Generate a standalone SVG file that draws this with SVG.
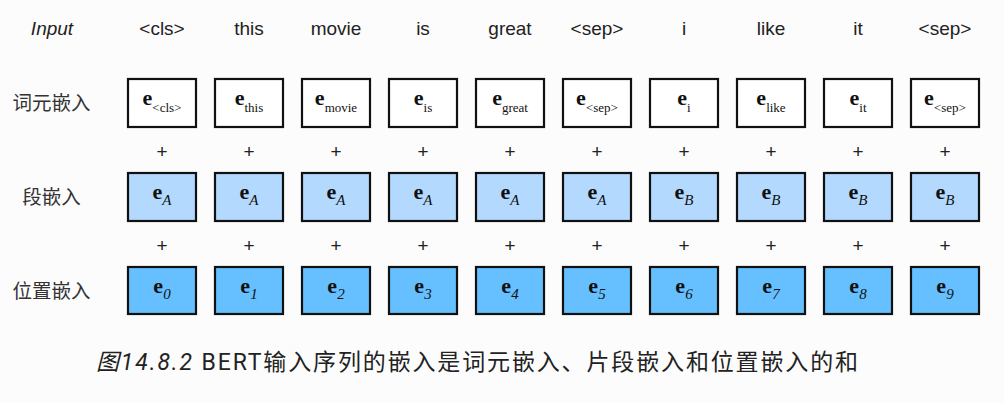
<svg xmlns="http://www.w3.org/2000/svg" width="1004" height="403" viewBox="0 0 1004 403">
<style>
.bg{fill:#fcfcfc}
.box{stroke:#111;stroke-width:2.2}
.tok{fill:#fff}
.seg{fill:#b3d9ff}
.pos{fill:#66bfff}
.top{font-family:"Liberation Sans",Arial,sans-serif;font-size:19px;fill:#222;text-anchor:middle}
.row{font-family:"Noto Sans CJK SC",sans-serif;font-size:19.5px;fill:#333;text-anchor:middle}
.plus{font-family:"Liberation Sans",Arial,sans-serif;font-size:19px;fill:#222;text-anchor:middle}
.lbl{font-family:"Liberation Serif","DejaVu Serif",serif;fill:#111;text-anchor:middle}
.e{font-weight:bold;font-size:22px}
.s{font-size:13px}
.si{font-size:15px;font-style:italic}
.cap{font-family:Roboto,"Noto Sans CJK SC",sans-serif;font-size:23px;fill:#222}
</style>
<rect class="bg" x="0" y="0" width="1004" height="403"/>
<g id="inputs">
<text class="top" x="52" y="35" font-style="italic">Input</text>
<text class="top" x="162" y="35">&lt;cls&gt;</text>
<text class="top" x="249" y="35">this</text>
<text class="top" x="336" y="35">movie</text>
<text class="top" x="423" y="35">is</text>
<text class="top" x="510" y="35">great</text>
<text class="top" x="597" y="35">&lt;sep&gt;</text>
<text class="top" x="684" y="35">i</text>
<text class="top" x="771" y="35">like</text>
<text class="top" x="858" y="35">it</text>
<text class="top" x="945" y="35">&lt;sep&gt;</text>
</g>
<g id="row-labels">
<text class="row" x="51.5" y="110">词元嵌入</text>
<text class="row" x="51.5" y="204">段嵌入</text>
<text class="row" x="51.5" y="298">位置嵌入</text>
</g>
<g id="token-embeddings">
<g id="tok0"><rect class="box tok" x="128" y="79" width="68" height="48"/><text class="lbl" x="162" y="105"><tspan class="e">e</tspan><tspan class="s" dy="7">&lt;cls&gt;</tspan></text></g>
<g id="tok1"><rect class="box tok" x="215" y="79" width="68" height="48"/><text class="lbl" x="249" y="105"><tspan class="e">e</tspan><tspan class="s" dy="7">this</tspan></text></g>
<g id="tok2"><rect class="box tok" x="302" y="79" width="68" height="48"/><text class="lbl" x="336" y="105"><tspan class="e">e</tspan><tspan class="s" dy="7">movie</tspan></text></g>
<g id="tok3"><rect class="box tok" x="389" y="79" width="68" height="48"/><text class="lbl" x="423" y="105"><tspan class="e">e</tspan><tspan class="s" dy="7">is</tspan></text></g>
<g id="tok4"><rect class="box tok" x="476" y="79" width="68" height="48"/><text class="lbl" x="510" y="105"><tspan class="e">e</tspan><tspan class="s" dy="7">great</tspan></text></g>
<g id="tok5"><rect class="box tok" x="563" y="79" width="68" height="48"/><text class="lbl" x="597" y="105"><tspan class="e">e</tspan><tspan class="s" dy="7">&lt;sep&gt;</tspan></text></g>
<g id="tok6"><rect class="box tok" x="650" y="79" width="68" height="48"/><text class="lbl" x="684" y="105"><tspan class="e">e</tspan><tspan class="s" dy="7">i</tspan></text></g>
<g id="tok7"><rect class="box tok" x="737" y="79" width="68" height="48"/><text class="lbl" x="771" y="105"><tspan class="e">e</tspan><tspan class="s" dy="7">like</tspan></text></g>
<g id="tok8"><rect class="box tok" x="824" y="79" width="68" height="48"/><text class="lbl" x="858" y="105"><tspan class="e">e</tspan><tspan class="s" dy="7">it</tspan></text></g>
<g id="tok9"><rect class="box tok" x="911" y="79" width="68" height="48"/><text class="lbl" x="945" y="105"><tspan class="e">e</tspan><tspan class="s" dy="7">&lt;sep&gt;</tspan></text></g>
</g>
<g id="plus-signs">
<text class="plus" x="162" y="158">+</text><text class="plus" x="249" y="158">+</text><text class="plus" x="336" y="158">+</text><text class="plus" x="423" y="158">+</text><text class="plus" x="510" y="158">+</text><text class="plus" x="597" y="158">+</text><text class="plus" x="684" y="158">+</text><text class="plus" x="771" y="158">+</text><text class="plus" x="858" y="158">+</text><text class="plus" x="945" y="158">+</text>
<text class="plus" x="162" y="252">+</text><text class="plus" x="249" y="252">+</text><text class="plus" x="336" y="252">+</text><text class="plus" x="423" y="252">+</text><text class="plus" x="510" y="252">+</text><text class="plus" x="597" y="252">+</text><text class="plus" x="684" y="252">+</text><text class="plus" x="771" y="252">+</text><text class="plus" x="858" y="252">+</text><text class="plus" x="945" y="252">+</text>
</g>
<g id="segment-embeddings">
<g id="seg0"><rect class="box seg" x="128" y="173" width="68" height="48"/><text class="lbl" x="162" y="199"><tspan class="e">e</tspan><tspan class="si" dy="6">A</tspan></text></g>
<g id="seg1"><rect class="box seg" x="215" y="173" width="68" height="48"/><text class="lbl" x="249" y="199"><tspan class="e">e</tspan><tspan class="si" dy="6">A</tspan></text></g>
<g id="seg2"><rect class="box seg" x="302" y="173" width="68" height="48"/><text class="lbl" x="336" y="199"><tspan class="e">e</tspan><tspan class="si" dy="6">A</tspan></text></g>
<g id="seg3"><rect class="box seg" x="389" y="173" width="68" height="48"/><text class="lbl" x="423" y="199"><tspan class="e">e</tspan><tspan class="si" dy="6">A</tspan></text></g>
<g id="seg4"><rect class="box seg" x="476" y="173" width="68" height="48"/><text class="lbl" x="510" y="199"><tspan class="e">e</tspan><tspan class="si" dy="6">A</tspan></text></g>
<g id="seg5"><rect class="box seg" x="563" y="173" width="68" height="48"/><text class="lbl" x="597" y="199"><tspan class="e">e</tspan><tspan class="si" dy="6">A</tspan></text></g>
<g id="seg6"><rect class="box seg" x="650" y="173" width="68" height="48"/><text class="lbl" x="684" y="199"><tspan class="e">e</tspan><tspan class="si" dy="6">B</tspan></text></g>
<g id="seg7"><rect class="box seg" x="737" y="173" width="68" height="48"/><text class="lbl" x="771" y="199"><tspan class="e">e</tspan><tspan class="si" dy="6">B</tspan></text></g>
<g id="seg8"><rect class="box seg" x="824" y="173" width="68" height="48"/><text class="lbl" x="858" y="199"><tspan class="e">e</tspan><tspan class="si" dy="6">B</tspan></text></g>
<g id="seg9"><rect class="box seg" x="911" y="173" width="68" height="48"/><text class="lbl" x="945" y="199"><tspan class="e">e</tspan><tspan class="si" dy="6">B</tspan></text></g>
</g>
<g id="position-embeddings">
<g id="pos0"><rect class="box pos" x="128" y="267" width="68" height="47"/><text class="lbl" x="162" y="293"><tspan class="e">e</tspan><tspan class="si" dy="6">0</tspan></text></g>
<g id="pos1"><rect class="box pos" x="215" y="267" width="68" height="47"/><text class="lbl" x="249" y="293"><tspan class="e">e</tspan><tspan class="si" dy="6">1</tspan></text></g>
<g id="pos2"><rect class="box pos" x="302" y="267" width="68" height="47"/><text class="lbl" x="336" y="293"><tspan class="e">e</tspan><tspan class="si" dy="6">2</tspan></text></g>
<g id="pos3"><rect class="box pos" x="389" y="267" width="68" height="47"/><text class="lbl" x="423" y="293"><tspan class="e">e</tspan><tspan class="si" dy="6">3</tspan></text></g>
<g id="pos4"><rect class="box pos" x="476" y="267" width="68" height="47"/><text class="lbl" x="510" y="293"><tspan class="e">e</tspan><tspan class="si" dy="6">4</tspan></text></g>
<g id="pos5"><rect class="box pos" x="563" y="267" width="68" height="47"/><text class="lbl" x="597" y="293"><tspan class="e">e</tspan><tspan class="si" dy="6">5</tspan></text></g>
<g id="pos6"><rect class="box pos" x="650" y="267" width="68" height="47"/><text class="lbl" x="684" y="293"><tspan class="e">e</tspan><tspan class="si" dy="6">6</tspan></text></g>
<g id="pos7"><rect class="box pos" x="737" y="267" width="68" height="47"/><text class="lbl" x="771" y="293"><tspan class="e">e</tspan><tspan class="si" dy="6">7</tspan></text></g>
<g id="pos8"><rect class="box pos" x="824" y="267" width="68" height="47"/><text class="lbl" x="858" y="293"><tspan class="e">e</tspan><tspan class="si" dy="6">8</tspan></text></g>
<g id="pos9"><rect class="box pos" x="911" y="267" width="68" height="47"/><text class="lbl" x="945" y="293"><tspan class="e">e</tspan><tspan class="si" dy="6">9</tspan></text></g>
</g>
<g id="connectors"/>
<g id="caption">
<text class="cap" x="96" y="370" textLength="762" lengthAdjust="spacing"><tspan font-style="italic">图14.8.2</tspan> BERT输入序列的嵌入是词元嵌入、片段嵌入和位置嵌入的和</text>
</g>
</svg>
